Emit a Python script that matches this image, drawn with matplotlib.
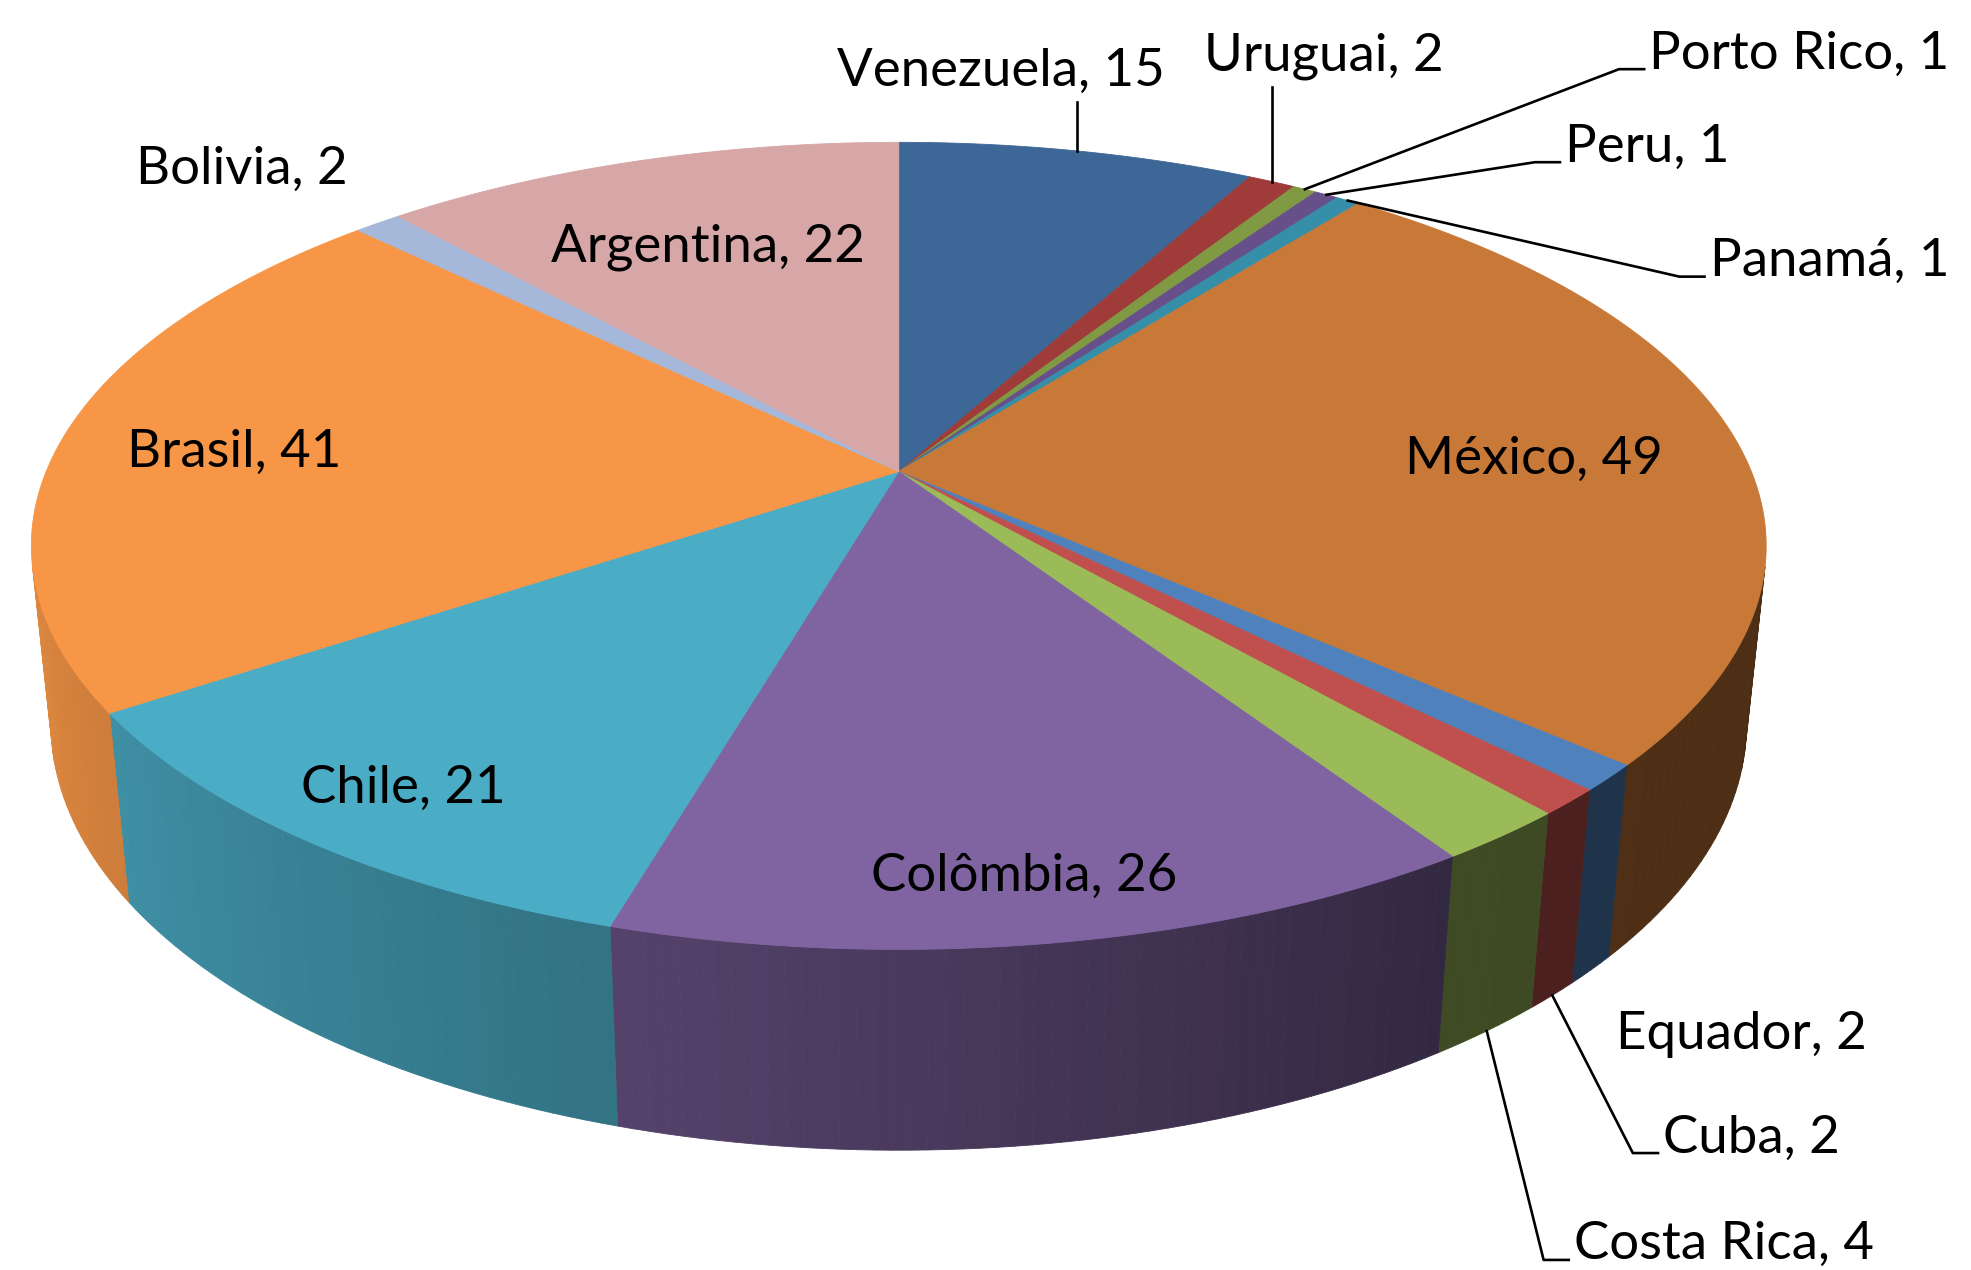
import numpy as np
import matplotlib
matplotlib.use('agg')
import matplotlib.pyplot as plt
from matplotlib.patches import Polygon
from matplotlib.colors import to_rgb

# data
paises = ['Venezuela', 'Uruguai', 'Porto Rico', 'Peru', 'Panamá', 'México',
          'Equador', 'Cuba', 'Costa Rica', 'Colômbia', 'Chile', 'Brasil',
          'Bolivia', 'Argentina']
valores = [15, 2, 1, 1, 1, 49, 2, 2, 4, 26, 21, 41, 2, 22]
cores = ['#3D6797', '#9F3C3A', '#7F9A43', '#67508A', '#358FA8', '#C87837',
         '#4F81BD', '#C0504D', '#9BBB59', '#8064A2', '#4BACC6', '#F79646',
         '#A5B8D9', '#D7A6A6']

# label layout (x, y, ha, leader type, rim used by leader)
rotulos = {
    'Venezuela': (796, 57, 'center', 'v', 'top'),
    'Uruguai': (1053, 45, 'center', 'v', 'top'),
    'Porto Rico': (1312, 43, 'left', 'elbow', 'top'),
    'Peru': (1245, 117, 'left', 'elbow', 'top'),
    'Panamá': (1360, 208, 'left', 'elbow', 'top'),
    'México': (1220, 365, 'center', None, None),
    'Equador': (1385, 823, 'center', None, None),
    'Cuba': (1323, 905, 'left', 'elbow', 'bottom'),
    'Costa Rica': (1252, 990, 'left', 'elbow', 'bottom'),
    'Colômbia': (815, 697, 'center', None, None),
    'Chile': (321, 627, 'center', None, None),
    'Brasil': (186, 360, 'center', None, None),
    'Bolivia': (192, 135, 'center', None, None),
    'Argentina': (563, 197, 'center', None, None),
}

# camera / perspective parameters (screen units of 1568x1010 canvas)
phi = np.radians(27.2)
D = 4.83
F = 3276.0
H = 0.236
CX, CY = 715.0, 375.0
sp, cp = np.sin(phi), np.cos(phi)


def proj(theta, z=0.0):
    x = np.sin(theta)
    y = np.cos(theta)
    d = D + y * cp - z * sp
    u = F * x / d
    w = F * (y * sp + z * cp) / d
    return CX + u, CY - w


def shade(tdeg):
    return np.interp(tdeg, [100, 147, 196, 236, 257], [0.38, 0.40, 0.665, 0.83, 0.9])


plt.rcParams['font.family'] = ['Lato', 'DejaVu Sans']
fig = plt.figure(figsize=(19.71, 12.70), dpi=100)
ax = fig.add_axes([0, 0, 1, 1])
ax.set_xlim(0, 1568)
ax.set_ylim(1010, 0)
ax.axis('off')

total = float(sum(valores))
limites = np.concatenate([[0], np.cumsum(valores)]) / total * 360.0

# visible part of the outer wall
cmin = -1.0 / (D * cp)
vis_a = np.degrees(np.arccos(cmin))
vis_b = 360.0 - vis_a

# walls
for i, cor in enumerate(cores):
    a, b = max(limites[i], vis_a), min(limites[i + 1], vis_b)
    if b <= a:
        continue
    n = max(2, int(np.ceil(b - a)))
    ts = np.linspace(a, b, n + 1)
    base = np.array(to_rgb(cor))
    for t0, t1 in zip(ts[:-1], ts[1:]):
        r0, r1 = np.radians(t0), np.radians(t1)
        pts = [proj(r0), proj(r1), proj(r1, -H), proj(r0, -H)]
        c = np.clip(base * shade(0.5 * (t0 + t1)), 0, 1)
        ax.add_patch(Polygon(pts, closed=True, facecolor=c, edgecolor=c, lw=0.6))

# top faces
for i, cor in enumerate(cores):
    a, b = limites[i], limites[i + 1]
    ts = np.radians(np.linspace(a, b, max(3, int((b - a) * 2)) + 1))
    pts = [(CX, CY)] + [proj(t) for t in ts]
    ax.add_patch(Polygon(pts, closed=True, facecolor=cor, edgecolor=cor, lw=0.6))

# labels
fs = 38
for i, nome in enumerate(paises):
    x, y, ha, tipo, rim = rotulos[nome]
    ax.text(x, y, '%s, %d' % (nome, valores[i]), fontsize=fs, ha=ha, va='center',
            color='black')
    if tipo is None:
        continue
    mid = np.radians(0.5 * (limites[i] + limites[i + 1]))
    px, py = proj(mid, 0.0 if rim == 'top' else -H)
    if tipo == 'v':
        ax.plot([px, px], [y + 24, py], color='black', lw=1.9)
    else:
        ly = y + 12
        ax.plot([x - 4, x - 24, px], [ly, ly, py], color='black', lw=1.9)

fig.savefig('out.png', dpi=100)
